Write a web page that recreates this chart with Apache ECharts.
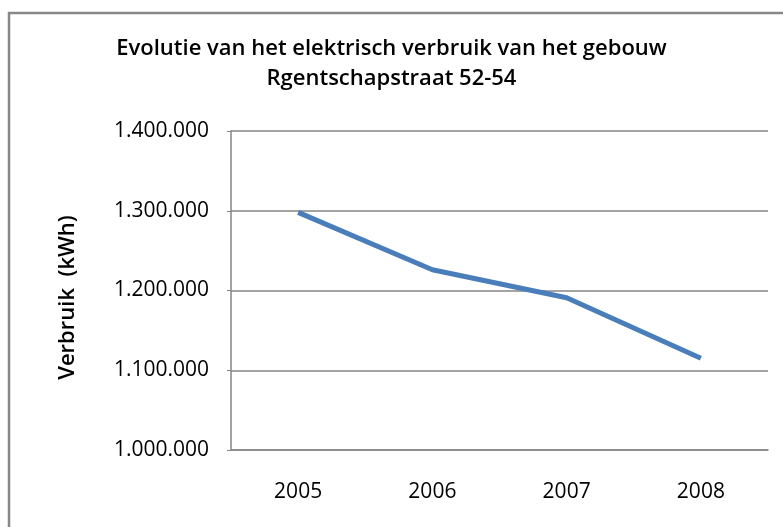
<!DOCTYPE html>
<html>
<head>
<meta charset="utf-8">
<script src="https://cdn.jsdelivr.net/npm/echarts@6/dist/echarts.min.js"></script>
<style>
  html, body { margin: 0; padding: 0; background: #fff; }
  #chart { width: 783px; height: 527px; }
</style>
</head>
<body>
<div id="chart"></div>
<script>
// jaren en verbruik (kWh)
const years = ['2005', '2006', '2007', '2008']
const verbruik = [1298000, 1226000, 1191000, 1115000]
const yTicks = [1000000, 1100000, 1200000, 1300000, 1400000]

const fontFam = '"Open Sans", "Liberation Sans", sans-serif'

// 1.300.000 notatie
function fmt(v) {
  return String(v).replace(/\B(?=(\d{3})+(?!\d))/g, '.')
}

const chart = echarts.init(document.getElementById('chart'))

chart.setOption({
  animation: false,
  title: {
    text: 'Evolutie van het elektrisch verbruik van het gebouw\nRgentschapstraat 52-54',
    left: 'center',
    top: 29,
    textStyle: {
      fontFamily: fontFam,
      fontSize: 22,
      fontWeight: 600,
      color: '#000',
      lineHeight: 30,
    },
  },
  graphic: [
    {
      type: 'rect',
      shape: { x: 9, y: 13, width: 800, height: 600 },
      style: { fill: 'none', stroke: '#888', lineWidth: 2.5 },
      silent: true,
    },
  ],
  grid: {
    left: 231,
    right: 15,
    top: 131,
    bottom: 77,
  },
  xAxis: {
    type: 'category',
    data: years,
    boundaryGap: true,
    axisLine: { lineStyle: { color: '#868686', width: 1.5 } },
    axisTick: { show: false },
    axisLabel: {
      color: '#000',
      fontFamily: fontFam,
      fontSize: 21,
      margin: 32,
    },
  },
  yAxis: {
    type: 'value',
    min: yTicks[0],
    max: yTicks[yTicks.length - 1],
    interval: 100000,
    name: 'Verbruik  (kWh)',
    nameLocation: 'middle',
    nameGap: 152,
    nameTextStyle: {
      color: '#000',
      fontFamily: fontFam,
      fontSize: 22,
      fontWeight: 600,
      padding: [0, 14, 0, 0],
    },
    axisLine: { show: true, lineStyle: { color: '#868686', width: 1.5 } },
    axisTick: { show: true, length: 4, lineStyle: { color: '#868686' } },
    axisLabel: {
      color: '#000',
      fontFamily: fontFam,
      fontSize: 21,
      margin: 22,
      formatter: fmt,
    },
    splitLine: { lineStyle: { color: '#868686', width: 1.5 } },
  },
  series: [
    {
      type: 'line',
      data: verbruik,
      showSymbol: false,
      lineStyle: { color: '#4a7ebb', width: 5 },
    },
  ],
})
</script>
</body>
</html>
